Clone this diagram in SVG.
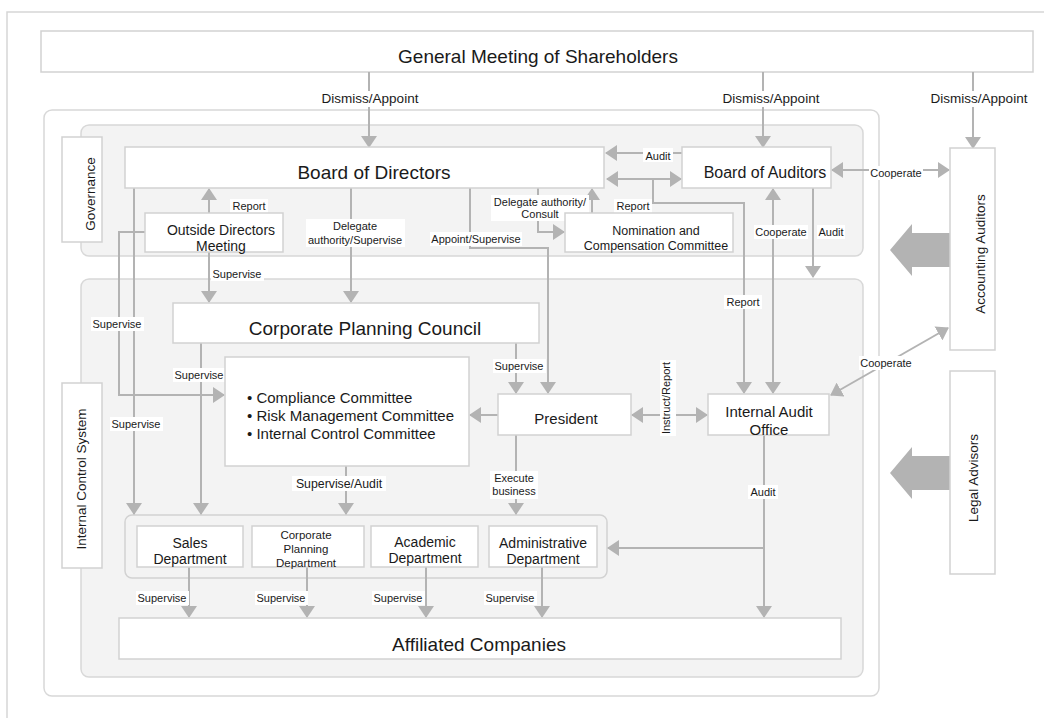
<svg xmlns="http://www.w3.org/2000/svg" width="1044" height="718" viewBox="0 0 1044 718">
<defs>
<style>
text{font-family:"Liberation Sans",Arial,sans-serif;fill:#1a1a1a}
.box{fill:#fff;stroke:#d2d2d2;stroke-width:1.5}
.panel{fill:#f3f3f3;stroke:#d8d8d8;stroke-width:1.5}
.c{fill:none;stroke:#b3b3b3;stroke-width:2}
.a{marker-end:url(#ah)}
.d{marker-start:url(#ah);marker-end:url(#ah)}
.lb{fill:#fff}
.l{font-size:11px;text-anchor:middle}
.m{text-anchor:middle}
.big{fill:#b3b3b3}
</style>
<marker id="ah" markerUnits="userSpaceOnUse" markerWidth="12" markerHeight="16" viewBox="0 0 12 16" refX="11" refY="8" orient="auto-start-reverse">
<path d="M0,0 L12,8 L0,16 z" fill="#b3b3b3"/>
</marker>
</defs>
<rect x="0" y="0" width="1044" height="718" fill="#fff"/>
<path d="M7,718 V12 H1044" fill="none" stroke="#d6d6d6" stroke-width="1.5"/>

<g id="frame">
<rect x="44" y="110" width="835" height="586" rx="8" fill="#fff" stroke="#d8d8d8" stroke-width="1.5"/>
<rect class="panel" x="81" y="125" width="782" height="131" rx="8"/>
<rect class="panel" x="81" y="279" width="782" height="398" rx="8"/>
</g>

<g id="gms">
<rect class="box" x="41" y="31" width="992" height="41"/>
<text class="m" x="538" y="63" font-size="19">General Meeting of Shareholders</text>
</g>
<g id="governance">
<rect class="box" x="62" y="137" width="40" height="105"/>
<text class="m" font-size="13.5" transform="translate(95,194) rotate(-90)">Governance</text>
</g>
<g id="ics">
<rect class="box" x="62" y="383" width="40" height="185"/>
<text class="m" font-size="13.5" transform="translate(86,479) rotate(-90)">Internal Control System</text>
</g>
<g id="deptgroup">
<rect x="125" y="515" width="482" height="63" rx="7" fill="#f3f3f3" stroke="#d2d2d2" stroke-width="1.5"/>
</g>

<g id="connectors">
<path class="c a" d="M369,72 V147"/>
<path class="c a" d="M763,72 V147"/>
<path class="c a" d="M973,72 V148"/>
<path class="c a" d="M682,153 H606"/>
<path class="c d" d="M607,179 H681"/>
<path class="c a" d="M653,179 V203 H744 V393"/>
<path class="c d" d="M773,189 V393"/>
<path class="c a" d="M813,188 V277"/>
<path class="c d" d="M832,170 H949"/>
<path class="c d" d="M831,395 L948,328"/>
<path class="c a" d="M209,213 V189"/>
<path class="c a" d="M209,252 V302"/>
<path class="c a" d="M351,188 V302"/>
<path class="c a" d="M538,188 V232 H564"/>
<path class="c a" d="M592,213 V189"/>
<path class="c a" d="M470,188 V248 H548 V393"/>
<path class="c a" d="M516,343 V393"/>
<path class="c a" d="M498,415 H470"/>
<path class="c d" d="M632,415 H707"/>
<path class="c a" d="M516,435 V514"/>
<path class="c a" d="M764,435 V617"/>
<path class="c a" d="M764,548 H608"/>
<path class="c a" d="M346,466 V514"/>
<path class="c a" d="M134,188 V514"/>
<path class="c a" d="M145,232 H119 V395 H224"/>
<path class="c a" d="M201,343 V514"/>
<path class="c a" d="M189,567 V617"/>
<path class="c a" d="M307,567 V617"/>
<path class="c a" d="M426,567 V617"/>
<path class="c a" d="M542,567 V617"/>
<polygon class="big" points="950,233 912,233 912,224 890,250 912,276 912,267 950,267"/>
<polygon class="big" points="950,456 912,456 912,447 890,473 912,499 912,490 950,490"/>

<g id="labels">
<rect class="lb" x="320" y="91" width="100" height="16"/>
<text class="m" x="370" y="103" font-size="13.5">Dismiss/Appoint</text>
<rect class="lb" x="721" y="91" width="100" height="16"/>
<text class="m" x="771" y="103" font-size="13.5">Dismiss/Appoint</text>
<rect class="lb" x="929" y="91" width="100" height="16"/>
<text class="m" x="979" y="103" font-size="13.5">Dismiss/Appoint</text>

<rect class="lb" x="643" y="148" width="30" height="14"/>
<text class="l" x="658" y="160">Audit</text>
<rect class="lb" x="230" y="199" width="38" height="14"/>
<text class="l" x="249" y="210">Report</text>
<rect class="lb" x="306" y="219" width="99" height="28"/>
<text class="l" x="355" y="230">Delegate</text>
<text class="l" x="355" y="244">authority/Supervise</text>
<rect class="lb" x="211" y="267" width="53" height="14"/>
<text class="l" x="237" y="278">Supervise</text>
<rect class="lb" x="491" y="195" width="98" height="26"/>
<text class="l" x="540" y="206">Delegate authority/</text>
<text class="l" x="540" y="218">Consult</text>
<rect class="lb" x="614" y="199" width="38" height="14"/>
<text class="l" x="633" y="210">Report</text>
<rect class="lb" x="430" y="232" width="92" height="14"/>
<text class="l" x="476" y="243">Appoint/Supervise</text>
<rect class="lb" x="754" y="225" width="54" height="14"/>
<text class="l" x="781" y="236">Cooperate</text>
<rect class="lb" x="817" y="225" width="28" height="14"/>
<text class="l" x="831" y="236">Audit</text>
<rect class="lb" x="724" y="295" width="38" height="14"/>
<text class="l" x="743" y="306">Report</text>
<rect class="lb" x="869" y="166" width="54" height="14"/>
<text class="l" x="896" y="177">Cooperate</text>
<rect class="lb" x="859" y="356" width="54" height="14"/>
<text class="l" x="886" y="367">Cooperate</text>
<rect class="lb" x="91" y="317" width="53" height="14"/>
<text class="l" x="117" y="328">Supervise</text>
<rect class="lb" x="110" y="417" width="53" height="14"/>
<text class="l" x="136" y="428">Supervise</text>
<rect class="lb" x="173" y="368" width="53" height="14"/>
<text class="l" x="199" y="379">Supervise</text>
<rect class="lb" x="493" y="359" width="53" height="14"/>
<text class="l" x="519" y="370">Supervise</text>
<rect class="lb" x="660" y="360" width="16" height="76"/>
<text class="l" transform="translate(670,398) rotate(-90)">Instruct/Report</text>
<rect class="lb" x="490" y="471" width="48" height="28"/>
<text class="l" x="514" y="482">Execute</text>
<text class="l" x="514" y="495">business</text>
<rect class="lb" x="748" y="485" width="30" height="14"/>
<text class="l" x="763" y="496">Audit</text>
<rect class="lb" x="292" y="476" width="94" height="15"/>
<text class="m" x="339" y="488" font-size="12.3">Supervise/Audit</text>
<rect class="lb" x="136" y="591" width="53" height="14"/>
<text class="l" x="162" y="602">Supervise</text>
<rect class="lb" x="255" y="591" width="53" height="14"/>
<text class="l" x="281" y="602">Supervise</text>
<rect class="lb" x="372" y="591" width="53" height="14"/>
<text class="l" x="398" y="602">Supervise</text>
<rect class="lb" x="484" y="591" width="53" height="14"/>
<text class="l" x="510" y="602">Supervise</text>
</g>
</g>

<g id="bod">
<rect class="box" x="125" y="147" width="479" height="41"/>
<text class="m" x="374" y="179" font-size="19">Board of Directors</text>
</g>
<g id="boa">
<rect class="box" x="682" y="147" width="149" height="41"/>
<text class="m" x="765" y="178" font-size="16">Board of Auditors</text>
</g>
<g id="outside">
<rect class="box" x="145" y="213" width="138" height="39"/>
<text class="m" x="221" y="235" font-size="14">Outside Directors</text>
<text class="m" x="221" y="251" font-size="14">Meeting</text>
</g>
<g id="nomination">
<rect class="box" x="565" y="213" width="168" height="39"/>
<text class="m" x="656" y="235" font-size="12.5">Nomination and</text>
<text class="m" x="656" y="250" font-size="12.5">Compensation Committee</text>
</g>
<g id="cpc">
<rect class="box" x="173" y="303" width="366" height="40"/>
<text class="m" x="365" y="335" font-size="19">Corporate Planning Council</text>
</g>
<g id="committees">
<rect class="box" x="225" y="357" width="244" height="109"/>
<text x="247" y="403" font-size="15">• Compliance Committee</text>
<text x="247" y="421" font-size="15">• Risk Management Committee</text>
<text x="247" y="439" font-size="15">• Internal Control Committee</text>
</g>
<g id="president">
<rect class="box" x="498" y="394" width="133" height="41"/>
<text class="m" x="566" y="424" font-size="15">President</text>
</g>
<g id="iao">
<rect class="box" x="708" y="394" width="121" height="41"/>
<text class="m" x="769" y="417" font-size="15">Internal Audit</text>
<text class="m" x="769" y="435" font-size="15">Office</text>
</g>
<g id="sales">
<rect class="box" x="137" y="526" width="106" height="41"/>
<text class="m" x="190" y="548" font-size="14">Sales</text>
<text class="m" x="190" y="564" font-size="14">Department</text>
</g>
<g id="cpdept">
<rect class="box" x="252" y="526" width="112" height="41"/>
<text class="m" x="306" y="539" font-size="11.5">Corporate</text>
<text class="m" x="306" y="553" font-size="11.5">Planning</text>
<text class="m" x="306" y="567" font-size="11.5">Department</text>
</g>
<g id="academic">
<rect class="box" x="371" y="526" width="107" height="41"/>
<text class="m" x="425" y="547" font-size="14">Academic</text>
<text class="m" x="425" y="563" font-size="14">Department</text>
</g>
<g id="admin">
<rect class="box" x="489" y="526" width="108" height="41"/>
<text class="m" x="543" y="548" font-size="14">Administrative</text>
<text class="m" x="543" y="564" font-size="14">Department</text>
</g>
<g id="affiliated">
<rect class="box" x="119" y="618" width="722" height="41"/>
<text class="m" x="479" y="651" font-size="19">Affiliated Companies</text>
</g>
<g id="accounting">
<rect class="box" x="950" y="148" width="45" height="202"/>
<text class="m" font-size="13.5" transform="translate(985,254) rotate(-90)">Accounting Auditors</text>
</g>
<g id="legal">
<rect class="box" x="950" y="371" width="45" height="203"/>
<text class="m" font-size="13.5" transform="translate(978,478) rotate(-90)">Legal Advisors</text>
</g>
</svg>
